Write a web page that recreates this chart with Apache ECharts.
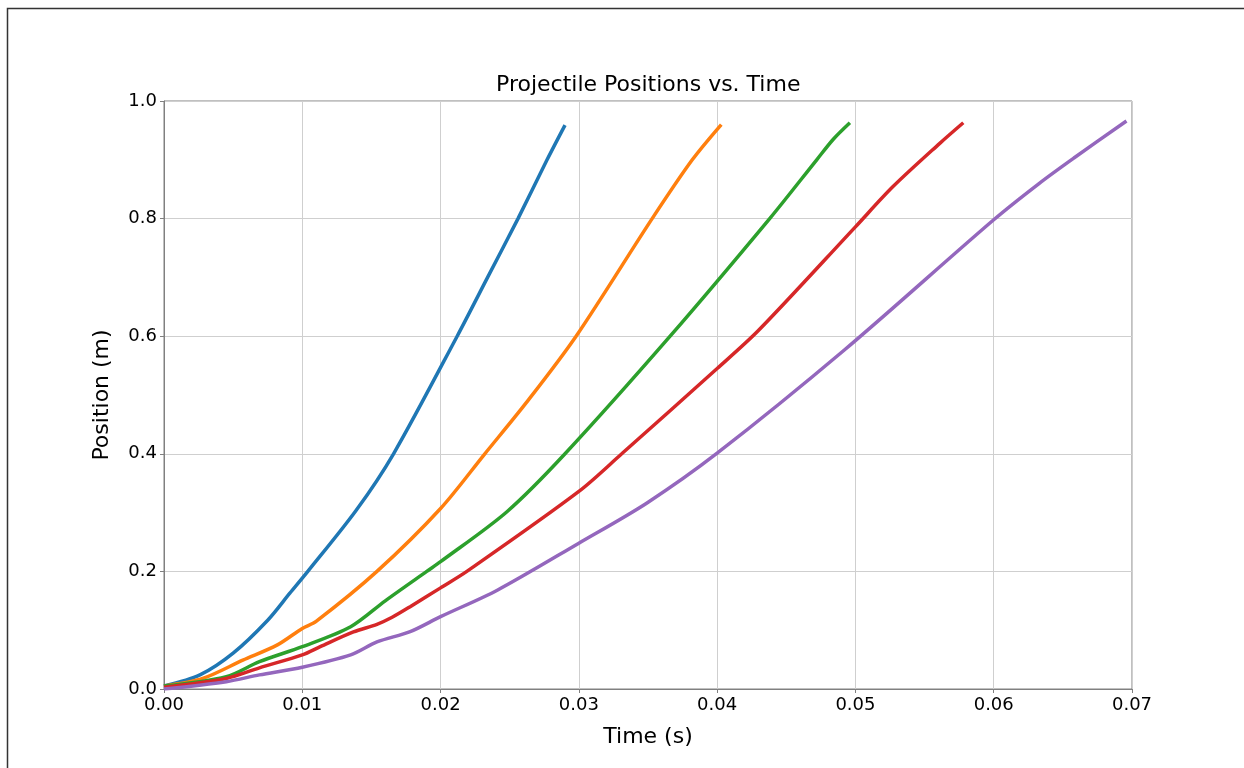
<!DOCTYPE html>
<html>
<head>
<meta charset="utf-8">
<title>Projectile Positions vs. Time</title>
<script src="https://cdn.jsdelivr.net/npm/echarts@6/dist/echarts.min.js"></script>
<style>
    html, body { margin: 0; padding: 0; background: #fff; }
    #chart { width: 1244px; height: 768px; }
</style>
</head>
<body>
<div id="chart"></div>
<script>
    // readings, time in s and position in m
    var timeA = [0, 0.0026, 0.005, 0.0075, 0.0091, 0.0104, 0.0139, 0.0166, 0.0212, 0.0234, 0.0256, 0.0277, 0.029];
    var posA  = [0.005, 0.024, 0.061, 0.117, 0.163, 0.2, 0.304, 0.4, 0.6, 0.70, 0.8, 0.9, 0.959];

    var timeB = [0, 0.0028, 0.0057, 0.0082, 0.01, 0.011, 0.0154, 0.02, 0.0232, 0.0263, 0.0298, 0.0353, 0.0382, 0.0403];
    var posB  = [0.005, 0.018, 0.049, 0.075, 0.103, 0.115, 0.2, 0.307, 0.4, 0.49, 0.6, 0.8, 0.9, 0.96];

    var timeC = [0, 0.0045, 0.0069, 0.01, 0.0135, 0.016, 0.019, 0.02, 0.0248, 0.029, 0.0366, 0.0438, 0.0472, 0.0484, 0.0496];
    var posC  = [0.005, 0.021, 0.0465, 0.072, 0.106, 0.15, 0.2, 0.2165, 0.3015, 0.4, 0.6, 0.8, 0.9, 0.935, 0.963];

    var timeD = [0, 0.0045, 0.0069, 0.01, 0.0113, 0.0137, 0.0154, 0.0165, 0.0178, 0.02, 0.0219, 0.03, 0.0331, 0.04, 0.043, 0.05, 0.0527, 0.0561, 0.0578];
    var posD  = [0.003, 0.018, 0.036, 0.058, 0.072, 0.097, 0.11, 0.122, 0.14, 0.172, 0.2, 0.336, 0.4, 0.545, 0.61, 0.786, 0.854, 0.928, 0.963];

    var timeE = [0, 0.0045, 0.0069, 0.01, 0.0135, 0.0154, 0.0178, 0.02, 0.0241, 0.03, 0.0349, 0.04, 0.0492, 0.06, 0.0633, 0.0658, 0.0696];
    var posE  = [0, 0.0125, 0.024, 0.037, 0.058, 0.08, 0.0975, 0.123, 0.168, 0.248, 0.316, 0.401, 0.5765, 0.798, 0.86, 0.903, 0.966];

    var colors = ['#1f77b4', '#ff7f0e', '#2ca02c', '#d62728', '#9467bd'];
    var runs = [[timeA, posA], [timeB, posB], [timeC, posC], [timeD, posD], [timeE, posE]];

    function pairs(ts, ps) {
        var out = [];
        for (var i = 0; i < ts.length; i++) {
            out.push([ts[i], ps[i]]);
        }
        return out;
    }

    var font = 'DejaVu Sans';
    var chart = echarts.init(document.getElementById('chart'));

    var series = [];
    for (var k = 0; k < runs.length; k++) {
        series.push({
            type: 'line',
            data: pairs(runs[k][0], runs[k][1]),
            showSymbol: false,
            smooth: 0.3,
            lineStyle: { color: colors[k], width: 3.5 },
            itemStyle: { color: colors[k] }
        });
    }

    chart.setOption({
        animation: false,
        backgroundColor: '#fff',
        title: {
            text: 'Projectile Positions vs. Time',
            left: 491,
            top: 69,
            textStyle: { fontFamily: font, fontSize: 22, fontWeight: 'normal', color: '#000' }
        },
        grid: {
            left: 164,
            right: 112,
            top: 101,
            bottom: 79,
            show: true,
            borderColor: '#808080',
            borderWidth: 1
        },
        xAxis: {
            type: 'value',
            min: 0,
            max: 0.07,
            interval: 0.01,
            name: 'Time (s)',
            nameLocation: 'middle',
            nameGap: 37,
            nameTextStyle: { fontFamily: font, fontSize: 22, color: '#000' },
            axisLine: { show: true, lineStyle: { color: '#808080' } },
            axisTick: { show: true, length: 4, lineStyle: { color: '#808080' } },
            axisLabel: {
                fontFamily: font, fontSize: 18, color: '#000', margin: 7,
                formatter: function (v) { return v.toFixed(2); }
            },
            splitLine: { show: true, lineStyle: { color: '#cfcfcf', width: 1 } }
        },
        yAxis: {
            type: 'value',
            min: 0,
            max: 1,
            interval: 0.2,
            name: 'Position (m)',
            nameLocation: 'middle',
            nameGap: 51,
            nameTextStyle: { fontFamily: font, fontSize: 22, color: '#000' },
            axisLine: { show: true, lineStyle: { color: '#808080' } },
            axisTick: { show: true, length: 4, lineStyle: { color: '#808080' } },
            axisLabel: {
                fontFamily: font, fontSize: 18, color: '#000', margin: 7,
                formatter: function (v) { return v.toFixed(1); }
            },
            splitLine: { show: true, lineStyle: { color: '#cfcfcf', width: 1 } }
        },
        graphic: [{
            type: 'polyline',
            silent: true,
            shape: { points: [[7.5, 768], [7.5, 8.5], [1244, 8.5]] },
            style: { stroke: '#333', lineWidth: 1.5, fill: null }
        }],
        series: series
    });
</script>
</body>
</html>
